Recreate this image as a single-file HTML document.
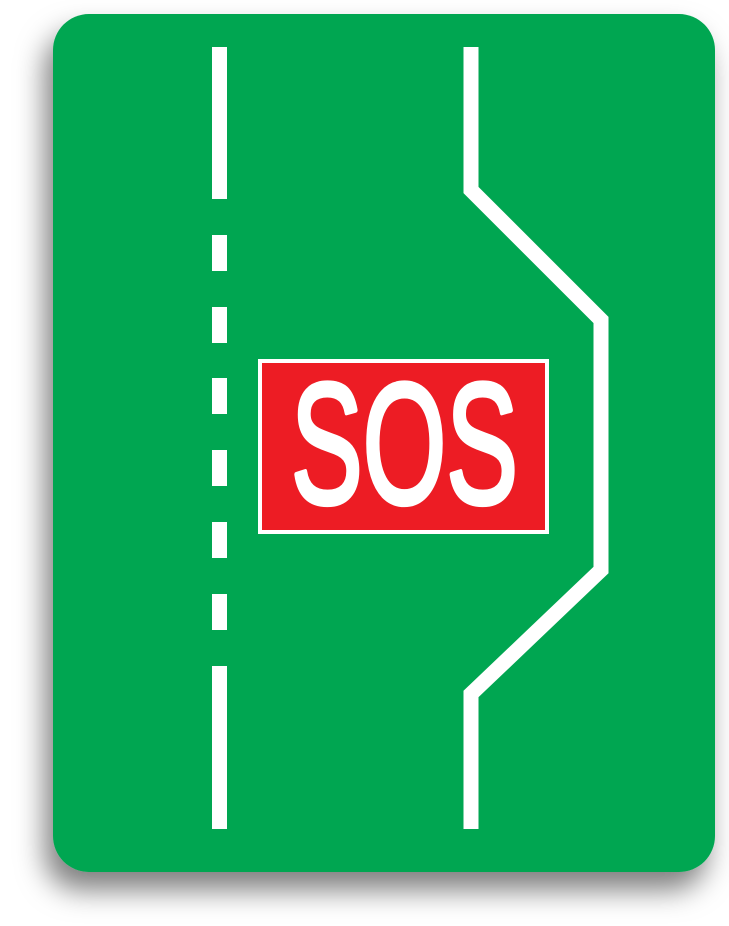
<!DOCTYPE html>
<html><head><meta charset="utf-8"><style>
html,body{margin:0;padding:0;background:#fff;width:729px;height:926px;overflow:hidden}
svg{display:block}
</style></head><body>
<svg width="729" height="926" viewBox="0 0 729 926">
<defs>
<filter id="sh" x="-20%" y="-20%" width="140%" height="140%">
<feDropShadow dx="-8" dy="18" stdDeviation="14" flood-color="#000" flood-opacity="0.5"/>
</filter>
</defs>
<rect x="53" y="14" width="662" height="858" rx="36" ry="36" fill="#00A651" filter="url(#sh)"/>
<g fill="#fff">
<rect x="212" y="47" width="15" height="152"/>
<rect x="212" y="235" width="15" height="36"/>
<rect x="212" y="307" width="15" height="36"/>
<rect x="212" y="378" width="15" height="36"/>
<rect x="212" y="450" width="15" height="36"/>
<rect x="212" y="522" width="15" height="36"/>
<rect x="212" y="594" width="15" height="36"/>
<rect x="212" y="666" width="15" height="163"/>
</g>
<polyline points="471,47 471,190 601,320 601,570 471,694 471,829" fill="none" stroke="#fff" stroke-width="15" stroke-linejoin="miter"/>
<rect x="258" y="359" width="291" height="175" fill="#fff"/>
<rect x="262" y="363" width="283" height="167" fill="#ED1C24"/>
<text x="291" y="503" fill="#fff" stroke="#fff" stroke-width="5" stroke-linejoin="round" font-family="'Liberation Sans Narrow','Liberation Sans',sans-serif" font-size="172" textLength="227" lengthAdjust="spacingAndGlyphs">SOS</text>
</svg>
</body></html>
